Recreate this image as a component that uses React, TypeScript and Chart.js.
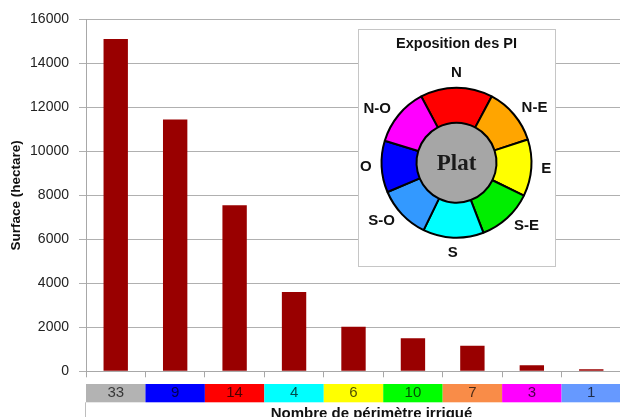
import React, { useEffect, useRef } from "react";
import { Chart, registerables } from "chart.js";

Chart.register(...registerables);

// ---- Main bar chart data ----
const categories = ["33", "9", "14", "4", "6", "10", "7", "3", "1"];
const surfaces = [15100, 11450, 7550, 3610, 2030, 1500, 1160, 280, 90];
const stripColors = ["#b3b3b3", "#0000ff", "#ff0000", "#00ffff", "#ffff00", "#00ff00", "#f98c48", "#ff00ff", "#6699ff"];
const yMin = 0;
const yMax = 16000;
const yStep = 2000;
const yAxisTitle = "Surface (hectare)";
const xAxisTitle = "Nombre de périmètre irrigué";

// ---- Inset compass rose data ----
const insetTitle = "Exposition des PI";
const directions = ["N", "N-E", "E", "S-E", "S", "S-O", "O", "N-O"];
const directionSpans = [56, 44, 44, 43, 47, 41, 40, 45];
const directionColors = ["#ff0000", "#ffa500", "#ffff00", "#00ee00", "#00ffff", "#3399ff", "#0000ff", "#ff00ff"];
const centerLabel = "Plat";
const centerColor = "#a6a6a6";

const SANS = "'Liberation Sans', Arial, sans-serif";
const SERIF = "'Liberation Serif', 'Times New Roman', serif";

const MAIN_W = 621;
const MAIN_H = 430;
const PLOT_TOP = 19.3;
const PLOT_LEFT = 86;
const PLOT_BOTTOM = 371.3;

const stripPlugin = {
  id: "colorStrip",
  beforeDraw(chart: any) {
    const { ctx } = chart;
    const xs = chart.scales.x;
    const n = chart.data.labels.length;
    const w = n > 1 ? xs.getPixelForValue(1) - xs.getPixelForValue(0) : xs.width;
    const top = xs.top + 12.7;
    const h = 18.3;
    ctx.save();
    for (let i = 0; i < n; i++) {
      const c = xs.getPixelForValue(i);
      ctx.fillStyle = stripColors[i];
      ctx.fillRect(c - w / 2, top, w, h);
    }
    ctx.strokeStyle = "#bdbdbd";
    ctx.lineWidth = 1;
    ctx.beginPath();
    ctx.moveTo(xs.left - 0.5, top + h);
    ctx.lineTo(xs.left - 0.5, chart.height);
    ctx.stroke();
    ctx.restore();
  },
  afterDraw(chart: any) {
    const { ctx } = chart;
    const xs = chart.scales.x;
    const top = xs.top + 12.7 + 18.3;
    ctx.save();
    ctx.font = `bold 15px ${SANS}`;
    ctx.fillStyle = "#111";
    ctx.textAlign = "center";
    ctx.textBaseline = "alphabetic";
    ctx.fillText(xAxisTitle, (xs.left + xs.right) / 2 + 18, top + 16);
    ctx.restore();
  },
};

const compassLabelPlugin = {
  id: "compassLabels",
  afterDraw(chart: any) {
    const { ctx } = chart;
    const meta = chart.getDatasetMeta(0);
    ctx.save();
    ctx.font = `bold 15px ${SANS}`;
    ctx.fillStyle = "#111";
    ctx.textAlign = "center";
    ctx.textBaseline = "middle";
    meta.data.forEach((arc: any, i: number) => {
      const p = arc.getProps(["x", "y", "startAngle", "endAngle", "outerRadius"], true);
      const mid = (p.startAngle + p.endAngle) / 2;
      const dx = Math.cos(mid);
      const dy = Math.sin(mid);
      const r = p.outerRadius + 10;
      const text = String(chart.data.labels[i]);
      const tw = ctx.measureText(text).width;
      let px = p.x + r * dx;
      let py = p.y + r * dy;
      if (Math.abs(dx) > 0.3) px += Math.sign(dx) * tw / 2;
      if (Math.abs(dy) > 0.9) py += Math.sign(dy) * 5;
      ctx.fillText(text, px, py);
    });
    const inner = chart.getDatasetMeta(1).data[0];
    if (inner) {
      const c = inner.getProps(["x", "y"], true);
      ctx.font = `bold 23px ${SERIF}`;
      ctx.fillStyle = "#1a1a1a";
      ctx.textBaseline = "alphabetic";
      ctx.fillText(centerLabel, c.x, c.y + 7.5);
    }
    ctx.restore();
  },
};

export default function App() {
  const mainRef = useRef<HTMLCanvasElement | null>(null);
  const insetRef = useRef<HTMLCanvasElement | null>(null);

  useEffect(() => {
    Chart.defaults.font.family = SANS;
    const main = new Chart(mainRef.current as HTMLCanvasElement, {
      type: "bar",
      data: {
        labels: categories,
        datasets: [
          {
            data: surfaces,
            backgroundColor: "#990000",
            borderWidth: 0,
            barPercentage: 0.41,
            categoryPercentage: 1,
          },
        ],
      },
      options: {
        responsive: false,
        animation: false,
        layout: { padding: { top: PLOT_TOP, right: 0, left: 0, bottom: 0 } },
        plugins: {
          legend: { display: false },
          tooltip: { enabled: false },
          title: { display: false },
        },
        scales: {
          x: {
            grid: {
              display: true,
              drawOnChartArea: false,
              drawTicks: true,
              tickLength: 6,
              color: "#a8a8a8",
              offset: true,
            },
            border: { color: "#a8a8a8" },
            ticks: {
              color: "rgba(0,0,0,0.7)",
              font: { size: 15 },
              padding: 7,
              maxRotation: 0,
              autoSkip: false,
            },
            afterFit: (s: any) => {
              s.height = MAIN_H - PLOT_BOTTOM;
            },
          },
          y: {
            min: yMin,
            max: yMax,
            ticks: {
              stepSize: yStep,
              color: "#222",
              font: { size: 14 },
              padding: 10,
              callback: (v: any) => String(v),
            },
            grid: { color: "#b0b0b0", tickLength: 7 },
            border: { color: "#a8a8a8" },
            title: {
              display: true,
              text: yAxisTitle,
              color: "#111",
              font: { size: 13.5, weight: "bold" },
              padding: { top: 8, bottom: 0 },
            },
            afterFit: (s: any) => {
              s.width = PLOT_LEFT;
            },
          },
        },
      } as any,
      plugins: [stripPlugin],
    });

    const inset = new Chart(insetRef.current as HTMLCanvasElement, {
      type: "doughnut",
      data: {
        labels: directions,
        datasets: [
          {
            data: directionSpans,
            backgroundColor: directionColors,
            borderColor: "#000",
            borderWidth: 2,
            weight: 35,
          } as any,
          {
            data: [1],
            backgroundColor: [centerColor],
            borderWidth: 0,
            weight: 40,
          } as any,
        ],
      },
      options: {
        responsive: false,
        animation: false,
        cutout: 0,
        radius: 75,
        rotation: -28,
        layout: { padding: 0 },
        plugins: {
          legend: { display: false },
          tooltip: { enabled: false },
          title: {
            display: true,
            text: insetTitle,
            color: "#111",
            font: { size: 14.5, weight: "bold" },
            padding: { top: 5, bottom: 0 },
          },
        },
      } as any,
      plugins: [compassLabelPlugin],
    });

    return () => {
      main.destroy();
      inset.destroy();
    };
  }, []);

  return (
    <div
      style={{
        position: "absolute",
        left: 0,
        top: 0,
        width: 620,
        height: 417,
        overflow: "hidden",
        background: "#fff",
      }}
    >
      <canvas
        ref={mainRef}
        width={MAIN_W}
        height={MAIN_H}
        style={{ position: "absolute", left: 0, top: 0, width: MAIN_W, height: MAIN_H }}
      />
      <div
        style={{
          position: "absolute",
          left: 358,
          top: 29,
          width: 198,
          height: 238,
          boxSizing: "border-box",
          border: "1.5px solid #c6c6c6",
          background: "#fff",
        }}
      >
        <canvas
          ref={insetRef}
          width={195}
          height={243}
          style={{ position: "absolute", left: 0, top: 0, width: 195, height: 243 }}
        />
      </div>
    </div>
  );
}
